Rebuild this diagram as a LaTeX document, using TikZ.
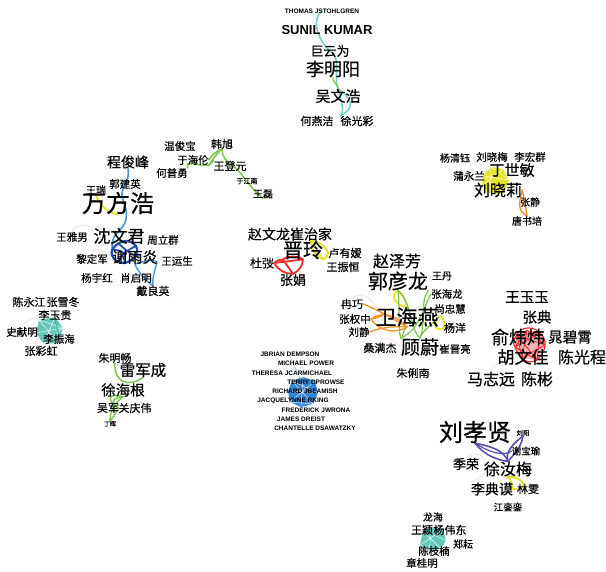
\documentclass[tikz,border=0pt]{standalone}
\usepackage{fontspec}
\setmainfont{Liberation Sans}
\newfontfamily\cjk[FakeBold=0.5]{Noto Sans CJK SC}
\newfontfamily\enf{Liberation Sans}
\usetikzlibrary{backgrounds}
\definecolor{cyE}{RGB}{110,210,200}
\definecolor{gnE}{RGB}{125,195,75}
\definecolor{blE}{RGB}{70,150,220}
\definecolor{dbE}{RGB}{35,80,175}
\definecolor{yeE}{RGB}{228,228,40}
\definecolor{rdE}{RGB}{235,45,45}
\definecolor{orE}{RGB}{245,145,45}
\definecolor{tlE}{RGB}{100,200,185}
\definecolor{ppE}{RGB}{90,80,180}
\definecolor{enB}{RGB}{50,135,215}
\definecolor{pkE}{RGB}{250,215,215}
\tikzset{
  cn/.style={font=\cjk\fontsize{#1}{#1}\selectfont, inner sep=0pt, text=black},
  en/.style={font=\enf\bfseries\fontsize{#1}{#1}\selectfont, inner sep=0pt, text=black},
  edg/.style={line width=#1, line cap=round, line join=round},
  edg/.default=1.5pt
}
\begin{document}
\begin{tikzpicture}[x=1pt,y=-1pt]
\useasboundingbox (0,0) rectangle (606,572);
% ---------- top cluster
\node[en=6.5] (thomas) at (322,11) {THOMAS JSTOHLGREN};
\node[en=13] (sunil) at (327,30) {SUNIL KUMAR};
\node[cn=13] (juyw) at (330,51) {巨云为};
\node[cn=18] (limy) at (333,69) {李明阳};
\node[cn=15] (wuwh) at (338,96) {吴文浩};
\node[cn=11] (heyj) at (317,121) {何燕洁};
\node[cn=11] (xugc) at (357,121) {徐光彩};
% ---------- left blue cluster
\node[cn=14] (chengjf) at (128,162) {程俊峰};
\node[cn=10.5] (guojy) at (125,184) {郭建英};
\node[cn=24] (wangfh) at (118,203) {万方浩};
\node[cn=10] (wangr) at (96,190) {王瑞};
\node[cn=17] (shenwj) at (119,236) {沈文君};
\node[cn=10.5] (wangyn) at (72,237) {王雅男};
\node[cn=10.5] (zhoulq) at (163,240) {周立群};
\node[cn=10.5] (lidj) at (92,259) {黎定军};
\node[cn=15] (xieyy) at (135,257) {谢雨炎};
\node[cn=10.5] (wangys) at (177,261) {王运生};
\node[cn=10.5] (yangyh) at (97,278) {杨宇红};
\node[cn=10.5] (xiaoqm) at (136,278) {肖启明};
\node[cn=11] (daily) at (153,291) {戴良英};
% ---------- green cluster
\node[cn=10.5] (wenjb) at (180,146) {温俊宝};
\node[cn=11] (hanx) at (222,144) {韩旭};
\node[cn=10.5] (yuhl) at (193,160) {于海伦};
\node[cn=11] (wangdy) at (230,166) {王登元};
\node[cn=10.5] (hepy) at (172,173) {何普勇};
\node[cn=7] (yujn) at (247,181) {于江南};
\node[cn=10] (wangl) at (263,194) {王磊};
% ---------- teal left cluster
\node[cn=11] (chenyj) at (29,302) {陈永江};
\node[cn=11] (zhangxd) at (63,302) {张雪冬};
\node[cn=11] (liyg) at (55,315) {李玉贵};
\node[cn=10.5] (shixm) at (22,332) {史献明};
\node[cn=10.5] (lizh) at (59,339) {李振海};
\node[cn=11] (zhangch) at (41,351) {张彩虹};
% ---------- lei cluster
\node[cn=11] (zhumc) at (115,358) {朱明畅};
\node[cn=15.5] (leijc) at (143,370) {雷军成};
\node[cn=14.5] (xuhg) at (123,390) {徐海根};
\node[cn=11] (wuj) at (108,408) {吴军};
\node[cn=11] (guanqw) at (135,408) {关庆伟};
\node[cn=6] (dingh) at (110,424) {丁晖};
% ---------- jin cluster
\node[cn=14] (zhaowl) at (269,234) {赵文龙};
\node[cn=14] (cuizj) at (311,234) {崔治家};
\node[cn=20] (jinl) at (303,250) {晋玲};
\node[cn=11] (luyy) at (345,253) {卢有嫒};
\node[cn=11] (wangzh) at (343,267) {王振恒};
\node[cn=12] (duT) at (262,263) {杜弢};
\node[cn=13] (zhangjuan) at (293,280) {张娟};
% ---------- wei cluster
\node[cn=16] (zhaozf) at (397,261) {赵泽芳};
\node[cn=20] (guoyl) at (398,281) {郭彦龙};
\node[cn=10] (wangdan) at (442,276) {王丹};
\node[cn=10.5] (zhanghl) at (447,294) {张海龙};
\node[cn=10.5] (shangzh) at (450,309) {尚忠慧};
\node[cn=11] (ranq) at (352,304) {冉巧};
\node[cn=10.5] (zhangqz) at (355,319) {张权中};
\node[cn=21] (weihy) at (407,317) {卫海燕};
\node[cn=11] (yangy) at (455,328) {杨洋};
\node[cn=10.5] (liujing) at (359,332) {刘静};
\node[cn=11] (sangmj) at (380,348) {桑满杰};
\node[cn=19] (guw) at (420,347) {顾蔚};
\node[cn=10.5] (cuijl) at (455,349) {崔晋亮};
\node[cn=11] (zhuln) at (413,373) {朱俐南};
% ---------- ding cluster
\node[cn=10] (yangqy) at (455,158) {杨清钰};
\node[cn=10.5] (liuxm) at (492,157) {刘晓梅};
\node[cn=10.5] (lihq) at (530,157) {李宏群};
\node[cn=10.5] (puyl) at (469,176) {蒲永兰};
\node[cn=15] (dingsm) at (512,170) {丁世敏};
\node[cn=16] (liuxl) at (498,190) {刘晓莉};
\node[cn=10] (zhangjing) at (530,202) {张静};
\node[cn=10] (tangsp) at (527,221) {唐书培};
% ---------- yu cluster
\node[cn=14.5] (wangyy) at (527,297) {王玉玉};
\node[cn=14.5] (zhangd) at (537,317) {张典};
\node[cn=18] (yuww) at (518,337) {俞炜炜};
\node[cn=14.5] (chaobx) at (570,337) {晁碧霄};
\node[cn=17] (huwj) at (523,357) {胡文佳};
\node[cn=16] (chengc) at (582,357) {陈光程};
\node[cn=16] (mazy) at (491,379) {马志远};
\node[cn=16] (chenb) at (537,379) {陈彬};
% ---------- english cluster
\node[en=6.5] (e1) at (290,354) {JBRIAN DEMPSON};
\node[en=6.5] (e2) at (306,363) {MICHAEL POWER};
\node[en=6.5] (e3) at (292,373) {THERESA JCARMICHAEL};
\node[en=6.5] (e4) at (316,382) {TERRY DPROWSE};
\node[en=6.5] (e5) at (305,391) {RICHARD JBEAMISH};
\node[en=6.5] (e6) at (293,401) {JACQUELYNNE RKING};
\node[en=6.5] (e7) at (316,410) {FREDERICK JWRONA};
\node[en=6.5] (e8) at (301,419) {JAMES DREIST};
\node[en=6.5] (e9) at (315,428) {CHANTELLE DSAWATZKY};
% ---------- liu cluster
\node[cn=24] (liuxx) at (475,432) {刘孝贤};
\node[cn=6.5] (liuyang) at (523,433) {刘阳};
\node[cn=9.5] (xiebyu) at (526,451) {谢宝瑜};
\node[cn=13] (jir) at (466,464) {季荣};
\node[cn=16] (xurm) at (508,469) {徐汝梅};
\node[cn=14] (lidm) at (492,489) {李典谟};
\node[cn=11] (linw) at (528,489) {林雯};
\node[cn=9.5] (jiangll) at (508,507) {江銮銮};
% ---------- bottom cluster
\node[cn=10] (longh) at (433,517) {龙海};
\node[cn=11] (wangying) at (422,530) {王颖};
\node[cn=11] (yangwd) at (450,530) {杨伟东};
\node[cn=10] (zhengy) at (463,544) {郑耘};
\node[cn=10.5] (chenzn) at (434,551) {陈枝楠};
\node[cn=10.5] (zhanggm) at (422,563) {章桂明};

\begin{pgfonlayer}{background}
\fill[white] (0,0) rectangle (606,572);
% faint arcs
\draw[pkE, line width=0.6pt] (wangyn.north) .. controls (72,225) and (95,220) .. (shenwj.west);
\draw[pkE, line width=0.6pt] (lidj.north) .. controls (92,248) and (100,246) .. (xieyy.west);
\draw[pkE, line width=0.6pt] (shixm.north) .. controls (22,322) and (35,318) .. (liyg.west);
\draw[pkE, line width=0.6pt] (zhangch.north) .. controls (30,345) and (35,340) .. (lizh.west);
\draw[pkE, line width=0.6pt] (yangqy.south east) -- (liuxl.north west);
\draw[pkE, line width=0.6pt] (jir.north) .. controls (470,452) and (488,450) .. (xurm.west);
\draw[pkE, line width=0.6pt] (mazy.north) .. controls (492,366) and (505,362) .. (huwj.west);
\draw[pkE, line width=0.6pt] (sangmj.north) .. controls (378,338) and (390,335) .. (guw.west);
\draw[pkE, line width=0.6pt] (ranq.north) .. controls (355,294) and (370,292) .. (weihy.north west);
\draw[pkE, line width=0.6pt] (lidm.north west) .. controls (478,478) and (490,474) .. (xurm.west);
% top cluster
\draw[cyE, edg] (thomas.center) .. controls (312,18) and (316,38) .. (juyw.center) .. controls (342,58) and (333,74) .. (wuwh.north) .. controls (341,100) and (345,112) .. (xugc.north west);
\draw[cyE, edg] (wuwh.north) .. controls (352,98) and (356,108) .. (xugc.north west);
\draw[gnE, edg=1.2pt] (limy.south) .. controls (332,82) and (338,84) .. (wuwh.north);
% left blue cluster
\draw[blE, edg=1.6pt] (chengjf.south) .. controls (131,182) and (118,188) .. (123,200) .. controls (128,212) and (128,222) .. (120,230) .. controls (113,236) and (111,243) .. (xieyy.north west);
\draw[yeE, edg=2pt] (wangr.south) .. controls (100,208) and (112,214) .. (wangfh.south);
\draw[dbE, edg=2.3pt] (112,250) .. controls (118,240) and (130,238) .. (136,246) .. controls (140,254) and (132,262) .. (124,263) .. controls (116,263) and (110,257) .. cycle;
\draw[dbE, edg=1.8pt] (xieyy.north west) .. controls (122,250) and (128,253) .. (124,263);
\draw[dbE, edg=1.8pt] (136,246) .. controls (128,250) and (120,255) .. (118,262);
\draw[dbE, edg=1.8pt] (shenwj.south) .. controls (124,248) and (130,255) .. (138,256);
\draw[blE, edg=1.4pt] (xieyy.south) .. controls (142,262) and (152,258) .. (157,262) .. controls (155,270) and (152,278) .. (daily.north);
\draw[blE, edg=1.4pt] (xieyy.south) .. controls (138,272) and (145,280) .. (daily.north);
% green cluster
\draw[gnE, edg] (hepy.north east) .. controls (184,160) and (196,166) .. (yuhl.south east);
\draw[gnE, edg] (yuhl.south east) .. controls (212,160) and (218,152) .. (hanx.south);
\draw[gnE, edg] (yuhl.east) .. controls (210,158) and (216,150) .. (hanx.south);
\draw[gnE, edg] (yuhl.south east) -- (wangdy.north west);
\draw[gnE, edg] (hanx.south) .. controls (222,156) and (226,162) .. (233,166) .. controls (242,172) and (248,186) .. (wangl.south);
% teal left blob
\fill[tlE] (39,320) -- (55,317) -- (63,328) -- (58,343) -- (44,344) -- (36,333) -- cycle;
\draw[white, line width=0.4pt] (39,320) -- (58,343) (55,317) -- (44,344) (63,328) -- (36,333) (39,320) -- (63,328) (44,344) -- (63,328);
\draw[tlE!80!black, line width=0.5pt] (liyg.south) -- (lizh.north);
% lei cluster
\draw[gnE, edg] (zhumc.south) .. controls (114,382) and (128,388) .. (leijc.south);
\draw[gnE, edg=1.4pt] (xuhg.south) .. controls (112,398) and (110,402) .. (guanqw.west);
\draw[gnE, edg=1.4pt] (xuhg.south) .. controls (108,392) and (106,400) .. (guanqw.west);
\draw[gnE, edg=1.4pt] (guanqw.west) .. controls (116,414) and (112,418) .. (dingh.north);
\draw[gnE, edg=1.4pt] (xuhg.south) .. controls (112,405) and (110,414) .. (dingh.north);
% jin cluster
\draw[rdE, edg=1.8pt] (duT.east) to[bend left=20] (jinl.south west);
\draw[rdE, edg=1.8pt] (jinl.south west) to[bend left=30] (jinl.south);
\draw[rdE, edg=1.8pt] (jinl.south) to[bend left=30] (zhangjuan.north);
\draw[rdE, edg=1.8pt] (zhangjuan.north) to[bend left=30] (duT.east);
\draw[rdE, edg=1.8pt] (duT.east) -- (jinl.south);
\draw[rdE, edg=1.8pt] (jinl.south west) -- (zhangjuan.north);
\draw[yeE, edg=1.8pt] (cuizj.south) to[bend left=30] (luyy.west);
\draw[yeE, edg=1.8pt] (luyy.west) to[bend left=30] (jinl.south east);
\draw[yeE, edg=1.8pt] (jinl.south east) to[bend left=30] (cuizj.south);
\draw[yeE, edg=1.4pt] (cuizj.south) -- (jinl.south east);
% wei cluster
\draw[yeE, edg=1.8pt] (guoyl.south) .. controls (390,295) and (394,305) .. (weihy.north);
\draw[yeE, edg=1.8pt] (guoyl.south) .. controls (404,295) and (406,302) .. (weihy.north);
\draw[yeE, edg=1.8pt] (weihy.east) .. controls (442,314) and (446,322) .. (yangy.west);
\draw[yeE, edg=1.8pt] (weihy.east) .. controls (430,328) and (440,332) .. (yangy.west);
\draw[gnE, edg=1.2pt] (guoyl.south) .. controls (412,302) and (410,330) .. (guw.north);
\draw[gnE, edg=1.2pt] (guoyl.south east) .. controls (420,300) and (426,325) .. (guw.north);
\draw[gnE, edg=1.2pt] (zhanghl.west) .. controls (424,305) and (420,330) .. (guw.north west);
\draw[gnE, edg=1.2pt] (weihy.east) .. controls (430,326) and (420,334) .. (guw.north);
\draw[gnE, edg=1.2pt] (weihy.south) .. controls (400,334) and (404,340) .. (guw.north west);
\draw[gnE, edg=1.2pt] (guoyl.south) .. controls (400,310) and (398,330) .. (guw.north west);
\draw[orE, edg=1.3pt] (zhangqz.east) .. controls (380,332) and (396,334) .. (weihy.south);
\draw[orE, edg=1.3pt] (zhangqz.east) .. controls (384,310) and (396,316) .. (weihy.south);
\draw[orE, edg=1.3pt] (ranq.east) .. controls (378,310) and (392,318) .. (weihy.south);
\draw[orE, edg=1.3pt] (liujing.east) .. controls (380,328) and (390,326) .. (weihy.south);
\draw[orE, edg=1.3pt] (zhangqz.east) .. controls (380,318) and (390,312) .. (weihy.west);
% ding cluster
\fill[yeE] (483,176) -- (491,167) -- (503,169) -- (509,180) -- (504,193) -- (490,194) -- (482,186) -- cycle;
\draw[white, line width=0.4pt] (483,176) -- (504,193) (491,167) -- (490,194) (503,169) -- (482,186) (509,180) -- (483,176) (491,167) -- (509,180);
\draw[yeE, edg=1.2pt] (puyl.east) -- (483,176);
\draw[orE, edg=1.4pt] (liuxl.east) .. controls (520,200) and (516,210) .. (tangsp.north);
\draw[orE, edg=1.4pt] (liuxl.east) .. controls (524,198) and (526,208) .. (tangsp.north);
% yu cluster red blob
\draw[rdE, line width=0.9pt] (517,335) -- (540,333) -- (537,360) -- (515,347) -- (527,330) -- (545,345) -- (522,358) -- (517,335) -- (537,360) (527,330) -- (522,358) (540,333) -- (515,347) (545,345) -- (517,335);
\draw[rdE, line width=1.2pt] (517,335) .. controls (520,326) and (535,326) .. (540,333) .. controls (548,340) and (546,352) .. (537,360) .. controls (530,364) and (520,362) .. (515,347) .. controls (512,342) and (514,338) .. (517,335);
\fill[rdE, opacity=0.35] (517,335) -- (527,330) -- (540,333) -- (545,345) -- (537,360) -- (522,358) -- (515,347) -- cycle;
% english blob
\fill[enB] (292,381) -- (303,377) -- (315,381) -- (318,393) -- (313,404) -- (301,407) -- (290,402) -- (288,391) -- cycle;
\draw[white, line width=0.35pt] (292,381) -- (313,404) (303,377) -- (301,407) (315,381) -- (290,402) (318,393) -- (288,391) (292,381) -- (318,393) (290,402) -- (313,404);
\draw[enB!60, line width=0.5pt] (e1.south) -- (e5.north);
% liu cluster
\draw[ppE, edg=1.6pt] (liuxx.south) .. controls (485,456) and (498,460) .. (xurm.north);
\draw[ppE, edg=1.6pt] (liuxx.south) .. controls (490,446) and (504,450) .. (xurm.north);
\draw[ppE, edg=1.6pt] (liuyang.south) .. controls (521,448) and (514,454) .. (xurm.north);
\draw[ppE, edg=1.6pt] (liuyang.south) .. controls (515,442) and (504,452) .. (xurm.north);
\draw[ppE, edg=1.2pt] (liuxx.south) .. controls (492,454) and (505,456) .. (xiebyu.west);
\draw[yeE, edg=2pt] (xurm.south) .. controls (522,476) and (532,490) .. (lidm.east);
\draw[yeE, edg=2pt] (xurm.south) .. controls (512,482) and (512,486) .. (lidm.east);
% bottom blob
\fill[tlE] (423,531) -- (432,527) -- (443,530) -- (446,540) -- (441,549) -- (429,551) -- (420,545) -- cycle;
\draw[white, line width=0.4pt] (423,531) -- (441,549) (432,527) -- (429,551) (443,530) -- (420,545) (446,540) -- (423,531);
\end{pgfonlayer}
\end{tikzpicture}
\end{document}
